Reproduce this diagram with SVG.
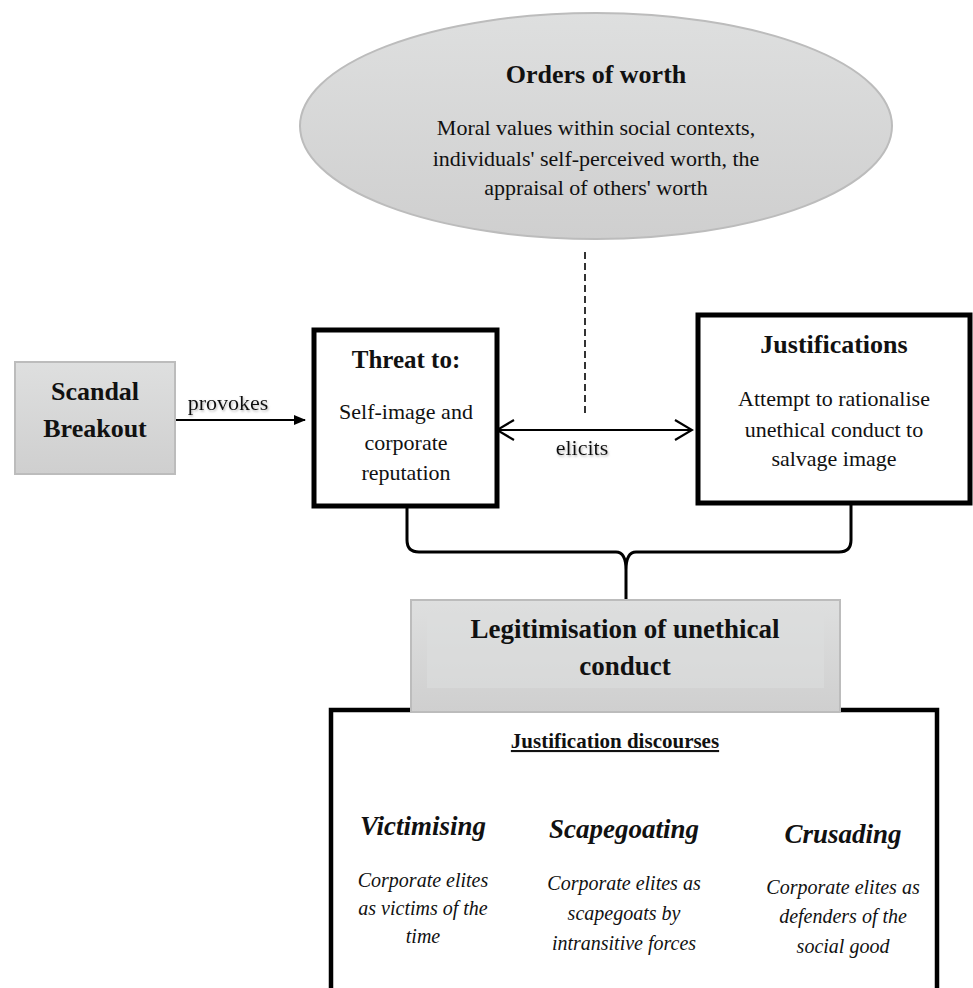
<svg xmlns="http://www.w3.org/2000/svg" width="973" height="988" viewBox="0 0 973 988">
<defs>
<linearGradient id="grey" x1="0" y1="0" x2="0" y2="1">
<stop offset="0" stop-color="#dedfdf"/>
<stop offset="1" stop-color="#cfcfcf"/>
</linearGradient>
<marker id="solidHead" markerWidth="12" markerHeight="10" refX="11" refY="5" orient="auto" markerUnits="userSpaceOnUse">
<path d="M0,0 L12,5 L0,10 Z" fill="#000"/>
</marker>
<marker id="openHead" markerWidth="20" markerHeight="22" refX="18" refY="11" orient="auto-start-reverse" markerUnits="userSpaceOnUse">
<path d="M1,1 L18,11 L1,21" fill="none" stroke="#000" stroke-width="2.2"/>
</marker>
<filter id="glow" x="-20%" y="-40%" width="140%" height="180%">
<feDropShadow dx="1" dy="1.5" stdDeviation="1.2" flood-color="#777" flood-opacity="0.55"/>
</filter>
</defs>
<style>
text{font-family:"Liberation Serif","Times New Roman",serif;fill:#111;text-anchor:middle}
.b{font-weight:bold}
.body{font-size:22px}
.it{font-style:italic}
.head{font-style:italic;font-weight:bold;font-size:27px}
.greybox{fill:url(#grey);stroke:#bcbcbc;stroke-width:2}
.blackbox{fill:#fff;stroke:#000;stroke-width:5}
.conn{fill:none;stroke:#000}
</style>
<rect width="973" height="988" fill="#fff"/>

<g id="connectors">
<line class="conn" x1="585" y1="252" x2="585" y2="415" stroke-width="1.6" stroke-dasharray="7,4"/>
<line class="conn" x1="176" y1="420" x2="305" y2="420" stroke-width="2" marker-end="url(#solidHead)"/>
<line class="conn" x1="497" y1="430" x2="692" y2="430" stroke-width="2.2" marker-start="url(#openHead)" marker-end="url(#openHead)"/>
<path class="conn" stroke-width="3" d="M407,508 L407,540 Q407,552 419,552 L616,552 Q626,552 626,570 L626,600 M626,570 Q626,552 636,552 L839,552 Q851,552 851,540 L851,505"/>
<text x="228" y="410" class="body" filter="url(#glow)">provokes</text>
<text x="582" y="455" class="body" filter="url(#glow)">elicits</text>
</g>

<g id="orders-of-worth">
<ellipse cx="596" cy="126" rx="296" ry="113" class="greybox"/>
<text x="596" y="83" class="b" font-size="26">Orders of worth</text>
<text x="596" y="135" class="body">Moral values within social contexts,</text>
<text x="596" y="166" class="body">individuals' self-perceived worth, the</text>
<text x="596" y="195" class="body">appraisal of others' worth</text>
</g>

<g id="scandal-breakout">
<rect x="15" y="362" width="160" height="112" class="greybox"/>
<text x="95" y="400" class="b" font-size="26">Scandal</text>
<text x="95" y="437" class="b" font-size="26">Breakout</text>
</g>

<g id="threat">
<rect x="314" y="330" width="183" height="176" class="blackbox"/>
<text x="406" y="368" class="b" font-size="25">Threat to:</text>
<text x="406" y="419" class="body">Self-image and</text>
<text x="406" y="450" class="body">corporate</text>
<text x="406" y="480" class="body">reputation</text>
</g>

<g id="justifications">
<rect x="698" y="315" width="272" height="188" class="blackbox"/>
<text x="834" y="353" class="b" font-size="26">Justifications</text>
<text x="834" y="406" class="body">Attempt to rationalise</text>
<text x="834" y="437" class="body">unethical conduct to</text>
<text x="834" y="466" class="body">salvage image</text>
</g>

<g id="discourses">
<rect x="331" y="710" width="606" height="300" fill="#fff" stroke="#000" stroke-width="4.5"/>
<text x="615" y="748" class="b" font-size="21" text-decoration="underline">Justification discourses</text>
<text x="423" y="835" class="head">Victimising</text>
<text x="423" y="887" class="it" font-size="20">Corporate elites</text>
<text x="423" y="915" class="it" font-size="20">as victims of the</text>
<text x="423" y="943" class="it" font-size="20">time</text>
<text x="624" y="838" class="head">Scapegoating</text>
<text x="624" y="890" class="it" font-size="20">Corporate elites as</text>
<text x="624" y="920" class="it" font-size="20">scapegoats by</text>
<text x="624" y="950" class="it" font-size="20">intransitive forces</text>
<text x="843" y="843" class="head">Crusading</text>
<text x="843" y="894" class="it" font-size="20">Corporate elites as</text>
<text x="843" y="923" class="it" font-size="20">defenders of the</text>
<text x="843" y="953" class="it" font-size="20">social good</text>
</g>

<g id="legitimisation">
<rect x="411" y="600" width="429" height="112" class="greybox"/>
<rect x="427" y="612" width="397" height="76" fill="#dcdddd" opacity="0.6"/>
<text x="625" y="638" class="b" font-size="27">Legitimisation of unethical</text>
<text x="625" y="675" class="b" font-size="27">conduct</text>
</g>
</svg>
